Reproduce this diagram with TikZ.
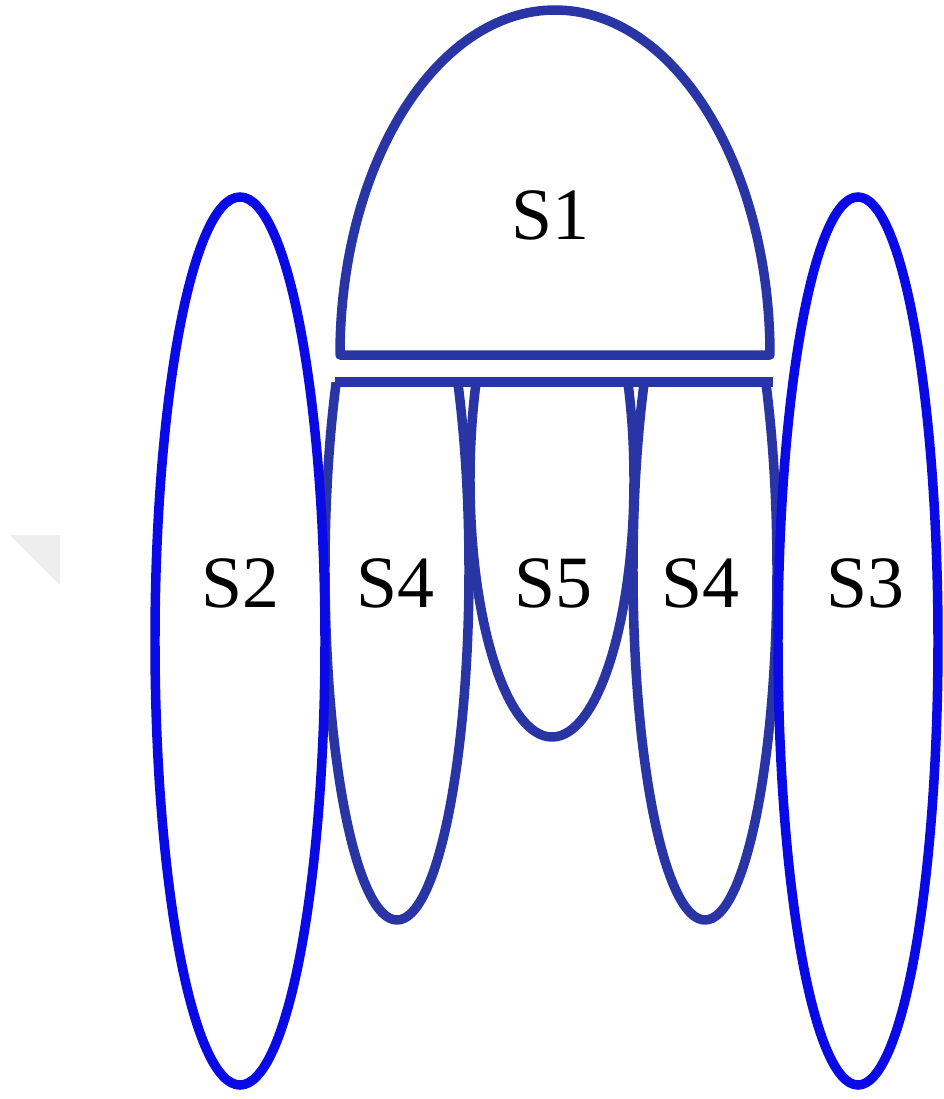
\documentclass[tikz,border=0pt]{standalone}
\usepackage{fontspec}
\setmainfont{Liberation Serif}
\usepackage{tikz}
\definecolor{lobeblue}{HTML}{2A35A5}
\definecolor{sideblue}{HTML}{0A0AE6}
\definecolor{markgray}{HTML}{EEEEEE}
\tikzset{
  lobe/.style={draw=lobeblue, line width=2.7pt, line join=round},
  sidelobe/.style={draw=sideblue, line width=2.7pt},
  lobelabel/.style={font=\fontsize{21}{25}\selectfont, text=black, inner sep=0pt}
}

\begin{document}
\begin{tikzpicture}
  \useasboundingbox (0,0) rectangle (9.44,-10.99);
  \fill[markgray] (0.10,-5.35) -- (0.60,-5.35) -- (0.60,-5.85) -- cycle;
  % dome
  \draw[lobe] (3.40,-3.55) arc[start angle=180, end angle=0, x radius=2.15, y radius=3.45] -- cycle;
  % hanging lobes under the bar
  \begin{scope}
    \clip (0,-3.82) rectangle (9.44,-10.99);
    \draw[lobe] (3.97,-5.70) ellipse[x radius=0.72, y radius=3.50];
    \draw[lobe] (5.52,-4.80) ellipse[x radius=0.82, y radius=2.57];
    \draw[lobe] (7.05,-5.70) ellipse[x radius=0.72, y radius=3.50];
  \end{scope}
  \draw[lobe] (3.35,-3.82) -- (7.73,-3.82);
  % side lobes
  \draw[sidelobe] (2.40,-6.41) ellipse[x radius=0.85, y radius=4.44];
  \draw[sidelobe] (8.58,-6.41) ellipse[x radius=0.80, y radius=4.44];
  % labels
  \node[lobelabel] (s1) at (5.50,-2.15) {S1};
  \node[lobelabel] (s2) at (2.40,-5.83) {S2};
  \node[lobelabel] (s4a) at (3.95,-5.83) {S4};
  \node[lobelabel] (s5) at (5.53,-5.83) {S5};
  \node[lobelabel] (s4b) at (7.00,-5.83) {S4};
  \node[lobelabel] (s3) at (8.65,-5.83) {S3};
\end{tikzpicture}
\end{document}
